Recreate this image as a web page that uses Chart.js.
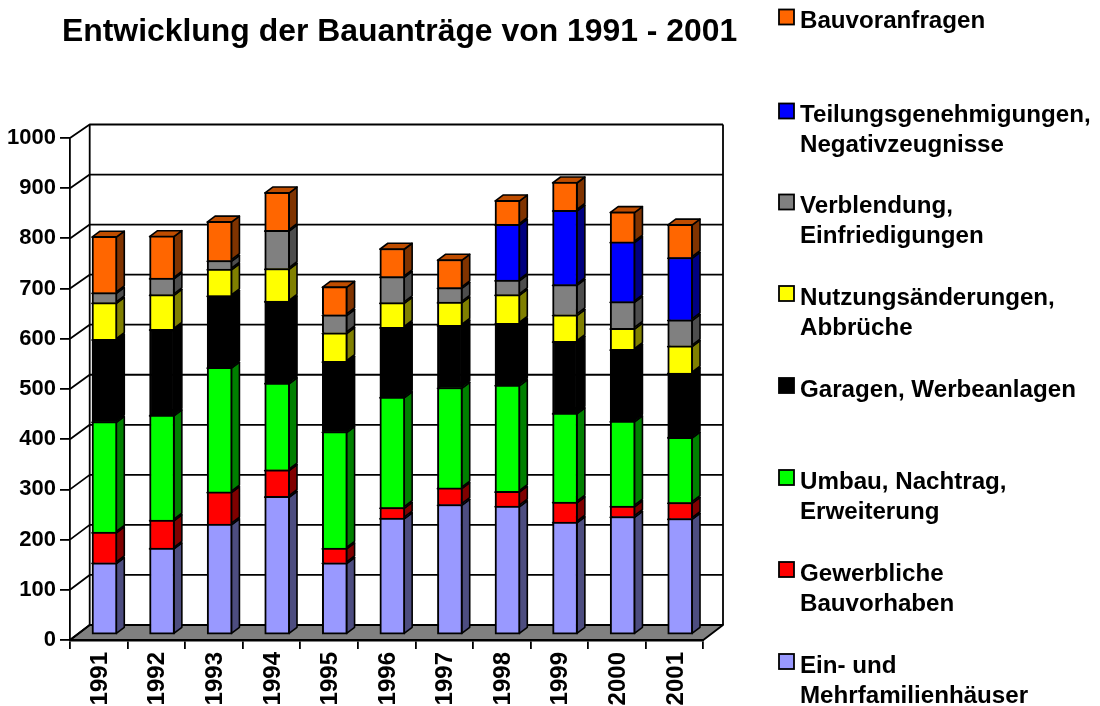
<!DOCTYPE html>
<html lang="de">
<head>
<meta charset="utf-8">
<title>Entwicklung der Bauanträge</title>
<style>html,body{margin:0;padding:0;background:#fff}canvas{display:block}</style>
<script src="https://cdn.jsdelivr.net/npm/chart.js@4"></script>
</head>
<body>
<canvas id="c" width="1100" height="706"></canvas>
<script>
const chartTitle = 'Entwicklung der Bauanträge von 1991 - 2001';
const years = ['1991','1992','1993','1994','1995','1996','1997','1998','1999','2000','2001'];
const einMehrfamilien = [144,173,221,276,144,233,260,257,225,236,232];
const gewerblich      = [61,56,64,53,29,21,33,29,40,21,32];
const umbau           = [220,209,248,173,232,220,200,212,177,169,130];
const garagen         = [164,171,143,163,140,139,124,123,143,143,128];
const nutzung         = [73,69,53,65,57,49,46,57,53,42,54];
const verblendung     = [20,33,17,76,36,52,29,29,60,53,52];
const teilung         = [null,null,null,null,null,null,null,111,148,119,124];
const bauvoranfragen  = [112,84,78,76,56,56,56,48,56,60,66];

const FONT = '"Liberation Sans", Arial, sans-serif';
const series = [
  {lines:['Ein- und','Mehrfamilienhäuser'], data:einMehrfamilien, color:'#9999FF', side:'#4D4D80', top:'#7373BF', swatch:654},
  {lines:['Gewerbliche','Bauvorhaben'], data:gewerblich, color:'#FF0000', side:'#800000', top:'#BF0000', swatch:562},
  {lines:['Umbau, Nachtrag,','Erweiterung'], data:umbau, color:'#00FF00', side:'#008000', top:'#00BF00', swatch:470},
  {lines:['Garagen, Werbeanlagen'], data:garagen, color:'#000000', side:'#000000', top:'#000000', swatch:378},
  {lines:['Nutzungsänderungen,','Abbrüche'], data:nutzung, color:'#FFFF00', side:'#808000', top:'#BFBF00', swatch:286},
  {lines:['Verblendung,','Einfriedigungen'], data:verblendung, color:'#808080', side:'#4D4D4D', top:'#606060', swatch:194.5},
  {lines:['Teilungsgenehmigungen,','Negativzeugnisse'], data:teilung, color:'#0000FF', side:'#000080', top:'#0000BF', swatch:103.5},
  {lines:['Bauvoranfragen'], data:bauvoranfragen, color:'#FF6600', side:'#803300', top:'#BF4D00', swatch:9.5}
];

// 3D projection settings
const BAR_SHIFT_X = 5.7, BAR_SHIFT_Y = -5, BAR_DX = 8, BAR_DY = -6;
const WALL_DX = 19.7;
const backY = (p, bottom) => bottom - 15 - (bottom - p) * 0.997;

function poly(ctx, pts, fill) {
  ctx.beginPath();
  pts.forEach((p, i) => i ? ctx.lineTo(p[0], p[1]) : ctx.moveTo(p[0], p[1]));
  ctx.closePath();
  if (fill) { ctx.fillStyle = fill; ctx.fill(); }
  ctx.stroke();
}

const scene3d = {
  id: 'scene3d',
  beforeDatasetsDraw(chart) {
    const {ctx, chartArea: a, scales: {y}} = chart;
    ctx.save();
    ctx.strokeStyle = '#000';
    ctx.lineJoin = 'round';
    // floor
    ctx.lineWidth = 1.8;
    poly(ctx, [[a.left,a.bottom],[a.left+WALL_DX,a.bottom-15],[a.right+WALL_DX,a.bottom-15],[a.right,a.bottom]], '#808080');
    // back wall grid
    y.ticks.forEach(t => {
      const p = y.getPixelForValue(t.value), b = backY(p, a.bottom);
      ctx.beginPath();
      ctx.moveTo(a.left, p);
      ctx.lineTo(a.left + WALL_DX, b);
      ctx.lineTo(a.right + WALL_DX, b);
      ctx.stroke();
    });
    ctx.beginPath();
    ctx.moveTo(a.left + WALL_DX, backY(a.top, a.bottom));
    ctx.lineTo(a.left + WALL_DX, a.bottom - 15);
    ctx.moveTo(a.right + WALL_DX, backY(a.top, a.bottom));
    ctx.lineTo(a.right + WALL_DX, a.bottom - 15);
    ctx.stroke();
    // bar side and top faces
    ctx.lineWidth = 1.6;
    series.forEach((s, di) => {
      chart.getDatasetMeta(di).data.forEach((el, i) => {
        if (s.data[i] === null) return;
        const xl = el.x - el.width / 2 + BAR_SHIFT_X, xr = el.x + el.width / 2 + BAR_SHIFT_X - 0.7;
        const t = el.y + BAR_SHIFT_Y + 0.8, b = el.base + BAR_SHIFT_Y - 0.8;
        poly(ctx, [[xr,t],[xr+BAR_DX,t+BAR_DY],[xr+BAR_DX,b+BAR_DY],[xr,b]], s.side);
        poly(ctx, [[xl,t],[xl+BAR_DX,t+BAR_DY],[xr+BAR_DX,t+BAR_DY],[xr,t]], s.top);
      });
    });
    ctx.restore();
  },
  beforeDatasetDraw(chart) {
    chart.ctx.save();
    chart.ctx.translate(BAR_SHIFT_X, BAR_SHIFT_Y);
  },
  afterDatasetDraw(chart) {
    chart.ctx.restore();
  },
  afterDraw(chart) {
    const {ctx} = chart;
    ctx.save();
    ctx.fillStyle = '#000';
    ctx.textBaseline = 'alphabetic';
    ctx.textAlign = 'left';
    ctx.font = 'bold 31.9px ' + FONT;
    ctx.fillText(chartTitle, 62, 41);
    ctx.font = 'bold 24.15px ' + FONT;
    series.forEach(s => {
      ctx.lineWidth = 1.8;
      ctx.strokeStyle = '#000';
      ctx.fillStyle = s.color;
      ctx.fillRect(779, s.swatch, 15, 15);
      ctx.strokeRect(779, s.swatch, 15, 15);
      ctx.fillStyle = '#000';
      s.lines.forEach((ln, i) => ctx.fillText(ln, 800, s.swatch + 18.8 + i * 30));
    });
    ctx.restore();
  }
};

new Chart(document.getElementById('c'), {
  type: 'bar',
  data: {
    labels: years,
    datasets: series.map((s, i) => ({
      label: s.lines.join(' '),
      data: s.data,
      backgroundColor: s.color,
      borderColor: '#000',
      borderWidth: 2,
      borderSkipped: i === 0 ? false : 'start',
      barThickness: 25,
      clip: false
    }))
  },
  plugins: [scene3d],
  options: {
    responsive: false,
    animation: false,
    devicePixelRatio: 1,
    layout: {padding: {left: 0, top: 138, right: 396.7, bottom: 0}},
    plugins: {legend: {display: false}, title: {display: false}, tooltip: {enabled: false}},
    scales: {
      x: {
        stacked: true,
        afterFit(s) { s.height = 66; },
        grid: {drawOnChartArea: false, drawTicks: true, tickLength: 9, color: '#000', lineWidth: 1.8},
        border: {color: '#000', width: 2.4},
        ticks: {autoSkip: false, minRotation: 90, maxRotation: 90, padding: 3, labelOffset: 1.5, color: '#000', font: {family: FONT, weight: 'bold', size: 24}}
      },
      y: {
        stacked: true,
        min: 0, max: 1000,
        afterFit(s) { s.width = 70; },
        grid: {drawOnChartArea: false, drawTicks: true, tickLength: 10, color: '#000', lineWidth: 1.8},
        border: {color: '#000', width: 1.8},
        ticks: {stepSize: 100, padding: 4, color: '#000', callback: v => String(v), font: {family: FONT, weight: 'bold', size: 22}}
      }
    }
  }
});
</script>
</body>
</html>
